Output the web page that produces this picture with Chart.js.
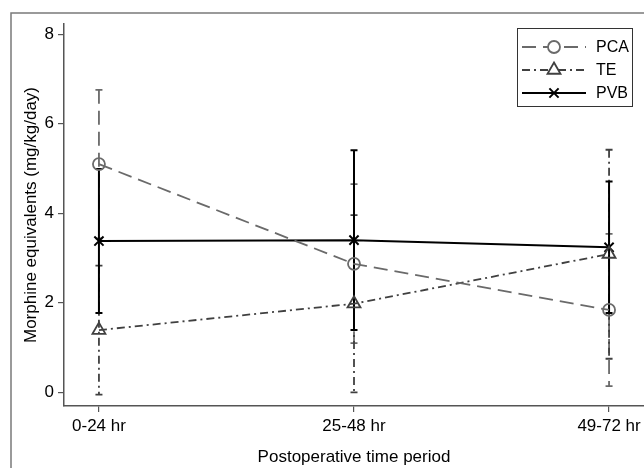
<!DOCTYPE html>
<html>
<head>
<meta charset="utf-8">
<script src="https://cdn.jsdelivr.net/npm/chart.js@4/dist/chart.umd.min.js"></script>
<style>
  html, body { margin: 0; padding: 0; background: #fff; }
  #wrap { width: 644px; height: 468px; }
</style>
</head>
<body>
<div id="wrap"><canvas id="myChart" width="644" height="468"></canvas></div>
<script>
var periods = ['0-24 hr', '25-48 hr', '49-72 hr']
var yTicks = [0, 2, 4, 6, 8]

var pcaMean = [5.10, 2.87, 1.84]
var pcaLow = [3.44, 1.10, 0.14]
var pcaHigh = [6.76, 4.65, 3.54]

var teMean = [1.39, 1.98, 3.09]
var teLow = [-0.05, 0.00, 0.75]
var teHigh = [2.83, 3.96, 5.42]

var pvbMean = [3.38, 3.40, 3.24]
var pvbLow = [1.77, 1.39, 1.77]
var pvbHigh = [4.99, 5.41, 4.71]

var FONT = '"Liberation Sans", Arial, sans-serif'

var series = [
	{ label: 'PCA', mean: pcaMean, low: pcaLow, high: pcaHigh, color: '#6a6a6a', dash: [14, 7], width: 1.8, style: 'circle', radius: 6 },
	{ label: 'TE', mean: teMean, low: teLow, high: teHigh, color: '#404040', dash: [8, 4, 2, 4], width: 1.8, style: 'triangle', radius: 7.5 },
	{ label: 'PVB', mean: pvbMean, low: pvbLow, high: pvbHigh, color: '#000000', dash: [], width: 2, style: 'crossRot', radius: 6.5 }
]

// outer frame of the graph region
var framePlugin = {
	id: 'frame',
	beforeDraw (chart) {
		var ctx = chart.ctx
		ctx.save()
		ctx.strokeStyle = '#7a7a7a'
		ctx.lineWidth = 1.5
		ctx.strokeRect(11, 13, 700, 500)
		ctx.restore()
	}
}

// vertical error bars with caps, drawn through the scales
var errorBarPlugin = {
	id: 'errorBars',
	beforeDatasetsDraw (chart) {
		var ctx = chart.ctx
		var x = chart.scales.x
		var y = chart.scales.y
		ctx.save()
		series.forEach(s => {
			ctx.strokeStyle = s.color
			ctx.lineWidth = s.width
			s.mean.forEach((m, i) => {
				var px = x.getPixelForValue(i)
				var top = y.getPixelForValue(s.high[i])
				var bot = y.getPixelForValue(s.low[i])
				ctx.setLineDash(s.dash)
				ctx.beginPath()
				ctx.moveTo(px, top)
				ctx.lineTo(px, bot)
				ctx.stroke()
				ctx.setLineDash([])
				ctx.beginPath()
				ctx.moveTo(px - 3.5, top)
				ctx.lineTo(px + 3.5, top)
				ctx.moveTo(px - 3.5, bot)
				ctx.lineTo(px + 3.5, bot)
				ctx.stroke()
			})
		})
		ctx.restore()
	}
}

// stata-style legend box with line + marker samples
var legendPlugin = {
	id: 'boxLegend',
	afterDraw (chart) {
		var ctx = chart.ctx
		ctx.save()
		ctx.fillStyle = '#fff'
		ctx.fillRect(517, 28, 116, 79)
		ctx.strokeStyle = '#333'
		ctx.lineWidth = 1
		ctx.strokeRect(517.5, 28.5, 115, 78)
		var rows = [47, 70, 93]
		series.forEach((s, i) => {
			var ly = rows[i]
			ctx.strokeStyle = s.color
			ctx.lineWidth = s.width
			ctx.setLineDash(s.dash)
			ctx.beginPath()
			ctx.moveTo(522, ly)
			ctx.lineTo(586, ly)
			ctx.stroke()
			ctx.setLineDash([])
			ctx.fillStyle = '#fff'
			Chart.helpers.drawPoint(ctx, { pointStyle: s.style, radius: s.radius, rotation: 0, borderWidth: s.width }, 554, ly)
			ctx.fillStyle = '#000'
			ctx.font = '16px ' + FONT
			ctx.textBaseline = 'middle'
			ctx.fillText(s.label, 596, ly + 1)
		})
		ctx.restore()
	}
}

var ctx = document.getElementById('myChart').getContext('2d')
var myChart = new Chart(ctx, {
	type: 'line',
	data: {
		datasets: series.map(s => ({
			label: s.label,
			data: s.mean.map((v, i) => ({ x: i, y: v })),
			borderColor: s.color,
			borderWidth: s.width,
			borderDash: s.dash,
			pointStyle: s.style,
			pointRadius: s.radius,
			pointBorderColor: s.color,
			pointBackgroundColor: 'rgba(0,0,0,0)',
			pointBorderWidth: s.width,
			tension: 0,
			fill: false
		}))
	},
	options: {
		responsive: false,
		animation: { duration: 0 },
		layout: { autoPadding: false, padding: { top: 24, left: 0, right: 0, bottom: 0 } },
		plugins: {
			legend: { display: false },
			tooltip: { enabled: false }
		},
		scales: {
			x: {
				type: 'linear',
				min: -0.137,
				max: 2.137,
				afterBuildTicks: scale => { scale.ticks = periods.map((p, i) => ({ value: i })) },
				afterFit: scale => {
					scale.height = 62
					scale.paddingLeft = 0
					scale.paddingRight = 0
				},
				grid: { drawOnChartArea: false, drawTicks: true, tickLength: 6, tickColor: '#555', lineWidth: 1.2 },
				border: { display: true, color: '#555', width: 1.5 },
				ticks: {
					color: '#000',
					padding: 4,
					maxRotation: 0,
					font: { family: FONT, size: 17 },
					callback: v => periods[v]
				},
				title: {
					display: true,
					text: 'Postoperative time period',
					color: '#000',
					font: { family: FONT, size: 17 },
					padding: { top: 0, bottom: 0 }
				}
			},
			y: {
				min: -0.306,
				max: 8.23,
				afterBuildTicks: scale => { scale.ticks = yTicks.map(v => ({ value: v })) },
				afterFit: scale => {
					scale.width = 64
					scale.paddingTop = 0
					scale.paddingBottom = 0
				},
				grid: { drawOnChartArea: false, drawTicks: true, tickLength: 6, tickColor: '#555', lineWidth: 1.2 },
				border: { display: true, color: '#555', width: 1.5 },
				ticks: {
					color: '#000',
					padding: 4,
					font: { family: FONT, size: 17 }
				},
				title: {
					display: true,
					text: 'Morphine equivalents (mg/kg/day)',
					color: '#000',
					font: { family: FONT, size: 17 },
					padding: { top: 21, bottom: 0 }
				}
			}
		}
	},
	plugins: [framePlugin, errorBarPlugin, legendPlugin]
})
</script>
</body>
</html>
